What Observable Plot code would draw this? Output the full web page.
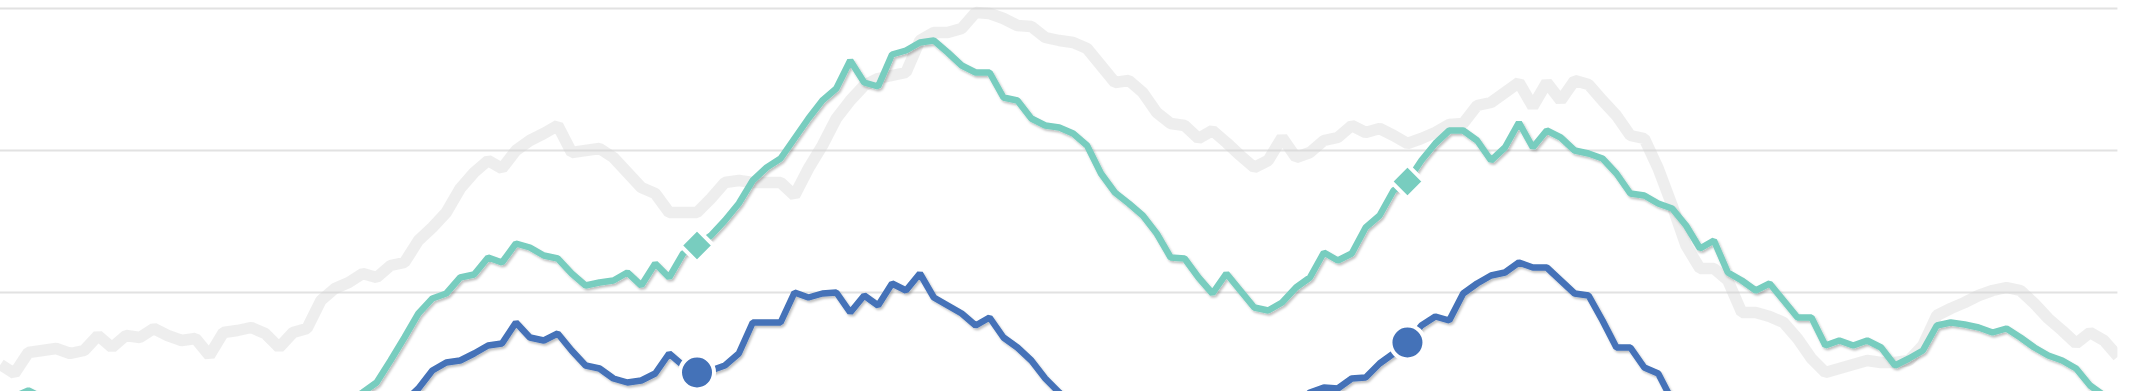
<!DOCTYPE html>
<html>
<head>
<meta charset="utf-8">
<script src="https://cdn.jsdelivr.net/npm/d3@7"></script>
<script src="https://cdn.jsdelivr.net/npm/@observablehq/plot@0.6"></script>
<style>
  html, body { margin: 0; padding: 0; background: #ffffff; overflow: hidden; }
  #chart { width: 2140px; height: 391px; overflow: hidden; }
</style>
</head>
<body>
<div id="chart"></div>
<script>
// Weekly index series (null = outside the visible frame)
const gray = [36, 27, 48, 50, 52, 47, 50, 65, 53, 65,
  63, 72, 65, 60, 62, 45, 68, 70, 73, 67,
  53, 68, 72, 100, 112, 118, 127, 123, 135, 138,
  160, 173, 188, 212, 228, 240, 232, 250, 260, 267,
  275, 248, 250, 252, 243, 228, 213, 207, 188, 188,
  188, 202, 218, 220, 218, 218, 218, 205, 232, 255,
  282, 300, 315, 322, 325, 328, 360, 368, 368, 372,
  388, 387, 382, 375, 374, 363, 360, 358, 352, 335,
  318, 320, 308, 288, 277, 275, 262, 270, 258, 245,
  233, 240, 263, 243, 248, 260, 263, 275, 268, 272,
  265, 257, 262, 268, 276, 277, 295, 298, 308, 318,
  294, 318, 300, 320, 316, 300, 285, 265, 262, 232,
  195, 155, 132, 132, 120, 88, 88, 84, 78, 62,
  42, 28, 32, 36, 40, 38, 38, 40, 55, 85,
  92, 98, 105, 110, 113, 110, 97, 82, 70, 57,
  68, 60, 44];

const teal = [4, 4, 10, 3, null, null, null, null, null, null,
  null, null, null, null, null, null, null, null, null, null,
  null, null, null, null, -10, -1, 8, 18, 40, 63,
  87, 102, 107, 123, 126, 143, 138, 157, 153, 145,
  142, 127, 115, 118, 120, 128, 115, 137, 123, 147,
  155, 165, 180, 197, 220, 233, 242, 262, 282, 300,
  312, 340, 318, 314, 346, 350, 358, 360, 348, 335,
  328, 328, 303, 300, 282, 275, 273, 267, 255, 227,
  208, 197, 185, 167, 143, 142, 123, 107, 127, 110,
  93, 90, 98, 113, 123, 148, 140, 147, 173, 185,
  210, 219, 240, 257, 270, 270, 260, 240, 253, 278,
  253, 270, 263, 250, 247, 242, 227, 207, 205, 197,
  192, 175, 152, 160, 128, 120, 110, 117, 100, 83,
  83, 55, 60, 55, 60, 53, 35, 42, 50, 75,
  78, 76, 73, 68, 72, 63, 53, 45, 40, 32,
  15, 5, -4];

const blue = [null, null, null, null, null, null, null, null, null, null,
  null, null, null, null, null, null, null, null, null, null,
  null, null, null, null, null, null, null, null, -12, -1,
  12, 30, 38, 40, 47, 55, 57, 78, 63, 60,
  67, 50, 35, 32, 22, 18, 20, 27, 47, 35,
  28, 30, 35, 47, 78, 78, 78, 108, 103, 107,
  108, 88, 105, 95, 117, 110, 127, 103, 95, 87,
  75, 83, 63, 53, 40, 22, 8, -5, null, null,
  null, null, null, null, null, null, null, null, null, null,
  null, null, null, -5, 8, 13, 12, 22, 23, 37,
  47, 58, 75, 84, 80, 107, 117, 125, 128, 138,
  133, 133, 120, 107, 105, 80, 53, 53, 33, 27,
  0, -12, null, null, null, null, null, null, null, null,
  null, null, null, null, null, null, null, null, null, null,
  null, null, null, null, null, null, null, null, null, null,
  null, null, null];

const markerWeeks = [50, 101];
const gridValues = [108, 250, 392];

const colors = { gray: "#d4d4d4", teal: "#78cdbf", blue: "#4472b8", grid: "#e2e2e2" };

const rows = gray.map((g, i) => ({
  week: i,
  gray: g,
  teal: teal[i] ?? NaN,
  blue: blue[i] ?? NaN
}));
const markerRows = rows.filter(d => markerWeeks.includes(d.week));

const chart = Plot.plot({
  width: 2140,
  height: 391,
  marginTop: 0,
  marginBottom: 0,
  marginLeft: 0,
  marginRight: 22.6,
  style: { background: "#ffffff", overflow: "hidden" },
  x: { domain: [0, gray.length - 1], axis: null },
  y: { domain: [9, 400], axis: null },
  marks: [
    Plot.ruleY(gridValues, { stroke: colors.grid, strokeWidth: 2 }),
    Plot.lineY(rows, { x: "week", y: "gray", stroke: colors.gray, strokeOpacity: 0.4, strokeWidth: 11.5, strokeLinejoin: "miter", strokeLinecap: "butt", clip: true }),
    Plot.lineY(rows, { x: "week", y: "teal", stroke: colors.teal, strokeWidth: 6.5, strokeLinejoin: "miter", strokeLinecap: "butt", clip: true }),
    Plot.lineY(rows, { x: "week", y: "blue", stroke: colors.blue, strokeWidth: 6.5, strokeLinejoin: "miter", strokeLinecap: "butt", clip: true }),
    Plot.dot(markerRows, { x: "week", y: "teal", symbol: "diamond2", r: 15, fill: colors.teal, stroke: "#ffffff", strokeWidth: 4 }),
    Plot.dot(markerRows, { x: "week", y: "blue", symbol: "circle", r: 17, fill: colors.blue, stroke: "#ffffff", strokeWidth: 4 })
  ]
});

// soft drop shadow under the two coloured lines
const svg = d3.select(chart);
const defs = svg.insert("defs", ":first-child");
const f = defs.append("filter").attr("id", "lineShadow")
  .attr("filterUnits", "userSpaceOnUse")
  .attr("x", -50).attr("y", -50).attr("width", 2300).attr("height", 520);
f.append("feDropShadow").attr("dx", 1.5).attr("dy", 2).attr("stdDeviation", 1.3)
  .attr("flood-color", "#000").attr("flood-opacity", 0.25);
const lineGroups = svg.selectAll('g[aria-label="line"]').nodes();
lineGroups.slice(1).forEach(g => d3.select(g).attr("filter", "url(#lineShadow)"));

document.getElementById("chart").appendChild(chart);
</script>
</body>
</html>
